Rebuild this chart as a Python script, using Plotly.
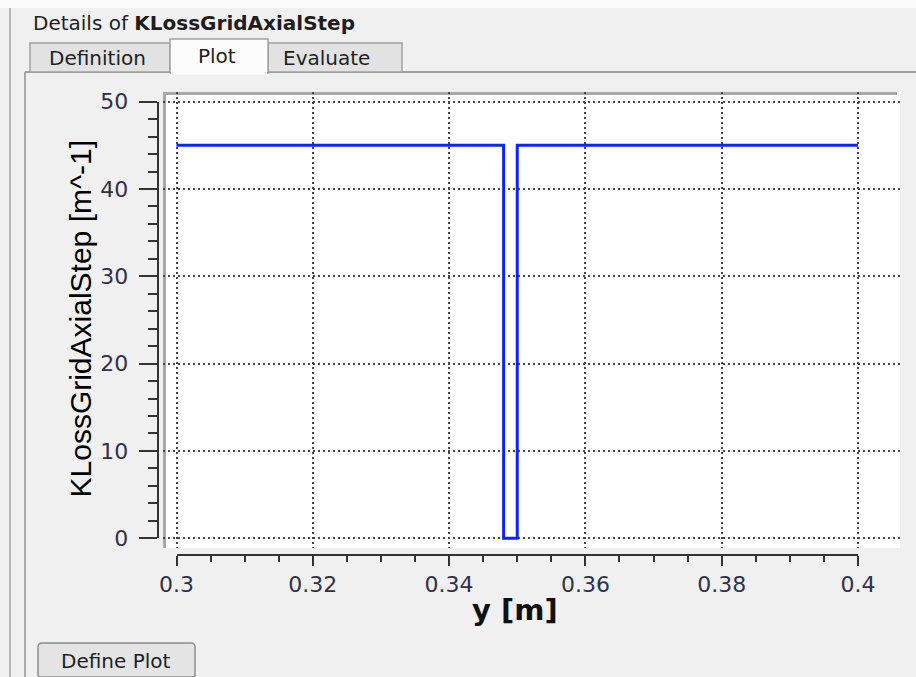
import plotly.graph_objects as go

# ---- data ----
y_pos = [0.3, 0.348, 0.348, 0.35, 0.35, 0.4]          # y [m]
k_loss = [45, 45, 0, 0, 45, 45]                        # KLossGridAxialStep [m^-1]
x_ticks = [0.3, 0.32, 0.34, 0.36, 0.38, 0.4]
x_ticklabels = ["0.3", "0.32", "0.34", "0.36", "0.38", "0.4"]
y_ticks = [0, 10, 20, 30, 40, 50]
y_ticklabels = ["0", "10", "20", "30", "40", "50"]

W, H = 916, 677


def px(x):
    return x / W


def py(y):
    return 1 - y / H


BG = "#f0f0f0"
AX = "#333333"
TICKFONT = dict(family="DejaVu Sans", size=22, color="#30304a")

fig = go.Figure()

# main data line on the white plot area axes
fig.add_trace(go.Scatter(
    x=y_pos, y=k_loss, mode="lines",
    line=dict(color="#0a24ff", width=3, shape="linear"),
    xaxis="x", yaxis="y", hoverinfo="skip", showlegend=False,
))
# invisible trace so the labelled axes are rendered
fig.add_trace(go.Scatter(
    x=y_pos, y=k_loss, mode="lines",
    line=dict(color="rgba(0,0,0,0)", width=0),
    xaxis="x2", yaxis="y2", hoverinfo="skip", showlegend=False,
))

# pixel geometry of the axes
x0_px, x1_px = 176.5, 858.0    # 0.3 -> 0.4
y0_px, y1_px = 538.2, 101.7    # 0 -> 50
wa_l, wa_r, wa_t, wa_b = 163, 900, 92, 548  # white area
sx = (x1_px - x0_px) / 0.1
sy = (y0_px - y1_px) / 50.0

xr = [0.3 - (x0_px - wa_l) / sx, 0.4 + (wa_r - x1_px) / sx]
yr = [0 - (wa_b - y0_px) / sy, 50 + (y1_px - wa_t) / sy]

grid = dict(showgrid=True, gridcolor="#444444", gridwidth=1.5, griddash="2px,3px",
            zeroline=False, showline=False, showticklabels=False, ticks="",
            automargin=False)

fig.update_layout(
    width=W, height=H, autosize=False,
    margin=dict(l=0, r=0, t=0, b=0, pad=0, autoexpand=False),
    paper_bgcolor=BG, plot_bgcolor="rgba(0,0,0,0)",
    xaxis=dict(domain=[px(wa_l), px(wa_r)], range=xr, tickvals=x_ticks,
               anchor="y", fixedrange=True, **grid),
    yaxis=dict(domain=[py(wa_b), py(wa_t)], range=yr, tickvals=y_ticks,
               anchor="x", fixedrange=True, **grid),
    xaxis2=dict(domain=[px(x0_px), px(x1_px)], range=[0.3, 0.4], anchor="free",
                position=py(555), showgrid=False, zeroline=False,
                showline=True, linecolor=AX, linewidth=2,
                ticks="outside", ticklen=10, tickwidth=2, tickcolor=AX,
                tickvals=x_ticks, ticktext=x_ticklabels, tickfont=TICKFONT,
                ticklabelstandoff=0, automargin=False,
                minor=dict(ticks="outside", dtick=0.005, tick0=0.3, ticklen=6,
                           tickwidth=2, tickcolor=AX, showgrid=False),
                fixedrange=True),
    yaxis2=dict(domain=[py(y0_px), py(y1_px)], range=[0, 50], anchor="free",
                position=px(157.7), showgrid=False, zeroline=False,
                showline=True, linecolor=AX, linewidth=2,
                ticks="outside", ticklen=18, tickwidth=2, tickcolor=AX,
                tickvals=y_ticks, ticktext=y_ticklabels, tickfont=TICKFONT,
                ticklabelstandoff=6, automargin=False,
                minor=dict(ticks="outside", dtick=2, tick0=0, ticklen=9,
                           tickwidth=2, tickcolor=AX, showgrid=False),
                fixedrange=True),
    showlegend=False,
)

shapes = []


def rect(x0, y0, x1, y1, fill, line=None, lw=0, layer="below"):
    shapes.append(dict(type="rect", xref="paper", yref="paper",
                       x0=px(x0), x1=px(x1), y0=py(y1), y1=py(y0),
                       fillcolor=fill, line=dict(color=line or fill, width=lw),
                       layer=layer))


def line(x0, y0, x1, y1, color, w, layer="below"):
    shapes.append(dict(type="line", xref="paper", yref="paper",
                       x0=px(x0), x1=px(x1), y0=py(y0), y1=py(y1),
                       line=dict(color=color, width=w), layer=layer))


# window chrome
rect(0, 0, W, 8, "#fafafa")
line(10, 8, 10, H, "#b4b4b4", 2)
line(25, 72, 25, H, "#a8a8a8", 2)
line(25, 72, 170, 72, "#a0a0a0", 2)
line(268, 72, W, 72, "#a0a0a0", 2)
# tabs
rect(30, 43, 170, 72, "#e2e2e2", "#a0a0a0", 1.5)
rect(268, 43, 402, 72, "#e2e2e2", "#a0a0a0", 1.5)
rect(170, 39, 268, 73, "#fcfcfc", "#a0a0a0", 1.5)
line(171, 73, 267, 73, "#fcfcfc", 3)
# white plot area with sunken frame
rect(wa_l, wa_t, wa_r, wa_b, "#ffffff")
line(wa_l + 1.5, wa_t, wa_l + 1.5, wa_b, "#a8a8a8", 3)
line(wa_l, wa_t + 1.5, wa_r - 3, wa_t + 1.5, "#a8a8a8", 3)
# button
shapes.append(dict(type="path", xref="paper", yref="paper",
                   path=(f"M {px(42)} {py(643)} L {px(191)} {py(643)} "
                         f"Q {px(195)} {py(643)} {px(195)} {py(647)} "
                         f"L {px(195)} {py(675)} Q {px(195)} {py(677)} {px(191)} {py(677)} "
                         f"L {px(42)} {py(677)} Q {px(38)} {py(677)} {px(38)} {py(675)} "
                         f"L {px(38)} {py(647)} Q {px(38)} {py(643)} {px(42)} {py(643)} Z"),
                   fillcolor="#e4e4e4", line=dict(color="#8c8c8c", width=1.5),
                   layer="below"))

fig.update_layout(shapes=shapes)

UIFONT = dict(family="DejaVu Sans", size=20, color="#1e1e1e")


def label(text, x, y, font, xanchor="center", angle=0):
    fig.add_annotation(text=text, x=px(x), y=py(y), xref="paper", yref="paper",
                       xanchor=xanchor, yanchor="middle", showarrow=False,
                       font=font, textangle=angle)


label("Details of <b>KLossGridAxialStep</b>", 31, 23, UIFONT, xanchor="left")
label("Definition", 97, 58, UIFONT)
label("Plot", 217, 56, UIFONT)
label("Evaluate", 326, 58, UIFONT)
label("Define Plot", 116, 661, UIFONT)

label("KLossGridAxialStep [m^-1]", 80, 318.5,
      dict(family="Liberation Sans", size=30, color="#000000"), angle=-90)
label("<b>y [m]</b>", 514.5, 610,
      dict(family="DejaVu Sans", size=29, color="#111111"))

fig.write_html("out.html")
